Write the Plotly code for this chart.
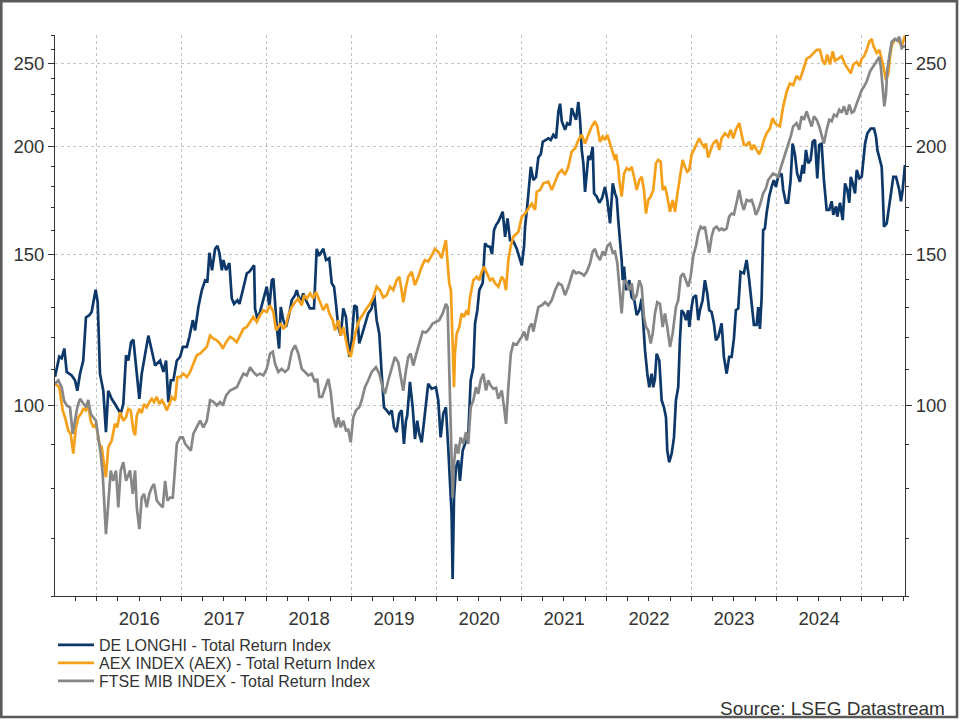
import numpy as np
import pandas as pd
import plotly.graph_objects as go

# ---------------- data (decimal year, index value) ----------------
DE_LONGHI = [(2015.509,108),(2015.560,114),(2015.588,113.5),(2015.619,116.5),(2015.647,109.4),(2015.706,108.4),(2015.745,107),(2015.772,104),(2015.804,108.9),(2015.842,112.8),(2015.874,126.6),(2015.913,127.4),(2015.941,128.5),(2015.960,131.3),(2015.988,136.4),(2016.012,131.9),(2016.039,108.9),(2016.078,104),(2016.109,93.1),(2016.136,104),(2016.176,101.8),(2016.215,100.4),(2016.254,98.7),(2016.282,97.8),(2016.313,100.4),(2016.345,114.4),(2016.372,112.8),(2016.404,118.5),(2016.431,119.3),(2016.462,110.8),(2016.501,101.8),(2016.529,108.9),(2016.568,114.9),(2016.607,120.6),(2016.647,115.9),(2016.686,111.3),(2016.745,112.8),(2016.784,109.4),(2016.815,112.8),(2016.842,100.9),(2016.871,107),(2016.901,107),(2016.941,112.8),(2016.980,113.9),(2017.012,117),(2017.059,117),(2017.089,120.2),(2017.129,125.7),(2017.156,122.3),(2017.195,130.2),(2017.235,136.2),(2017.274,139.9),(2017.301,139.5),(2017.325,150.6),(2017.356,143.7),(2017.392,152.2),(2017.419,153.4),(2017.442,150.6),(2017.471,143.7),(2017.489,147.7),(2017.521,143.7),(2017.560,146.5),(2017.588,133.2),(2017.615,131.3),(2017.654,132.6),(2017.678,131.3),(2017.718,136.2),(2017.765,142.5),(2017.795,143.1),(2017.824,144.3),(2017.851,145.6),(2017.862,129.7),(2017.889,126.2),(2017.921,128.5),(2017.960,132.6),(2018.000,137.5),(2018.031,130.2),(2018.059,139.9),(2018.078,140.5),(2018.118,123.4),(2018.145,116.5),(2018.165,130.2),(2018.195,125.7),(2018.227,123.4),(2018.266,128),(2018.294,132.6),(2018.333,134.4),(2018.353,136.2),(2018.392,131.9),(2018.431,135),(2018.462,132.6),(2018.509,129.7),(2018.556,129.7),(2018.588,152.2),(2018.615,149.4),(2018.666,152.2),(2018.698,147.7),(2018.736,148.4),(2018.765,138.8),(2018.792,137.5),(2018.815,131.3),(2018.842,123.4),(2018.871,120.6),(2018.901,129.7),(2018.933,126.8),(2018.972,113.9),(2019.000,119.1),(2019.031,130.8),(2019.059,130.2),(2019.089,118.1),(2019.118,120.6),(2019.156,124.6),(2019.195,128),(2019.235,129.7),(2019.266,134.4),(2019.294,125.7),(2019.325,121.2),(2019.353,108.9),(2019.380,99.5),(2019.412,98.7),(2019.442,97.8),(2019.471,98.7),(2019.498,94.3),(2019.529,93.1),(2019.560,97.8),(2019.588,98.7),(2019.615,90.2),(2019.639,96),(2019.654,97.3),(2019.686,106.5),(2019.718,99.5),(2019.745,91.4),(2019.772,96),(2019.795,92.7),(2019.824,90.6),(2019.862,97.8),(2019.901,106),(2019.941,104.6),(2019.992,105),(2020.019,101.4),(2020.047,91.8),(2020.078,97.8),(2020.109,99.5),(2020.136,89.4),(2020.156,81.7),(2020.176,74.7),(2020.188,62.8),(2020.204,78.1),(2020.227,84.7),(2020.254,86.3),(2020.274,81.7),(2020.306,88.6),(2020.333,90.2),(2020.372,92.7),(2020.400,107),(2020.431,110.8),(2020.451,124.6),(2020.478,129.1),(2020.501,136.2),(2020.541,138.8),(2020.568,154.4),(2020.595,153.3),(2020.627,153),(2020.651,150),(2020.674,160),(2020.698,162.2),(2020.725,163.6),(2020.753,165.9),(2020.776,168.1),(2020.804,157.2),(2020.833,165.1),(2020.862,155.8),(2020.894,155.8),(2020.941,152.2),(2020.972,148.4),(2021.000,145.6),(2021.027,153.4),(2021.039,161.5),(2021.066,171.3),(2021.089,179.7),(2021.106,189.6),(2021.136,183),(2021.168,184.6),(2021.195,194.4),(2021.224,196.1),(2021.247,202.8),(2021.286,203.8),(2021.313,204.7),(2021.341,203.8),(2021.372,206.6),(2021.404,204.7),(2021.431,219.9),(2021.451,224.6),(2021.471,214.3),(2021.509,209.4),(2021.536,213.2),(2021.568,212),(2021.588,221.9),(2021.615,218),(2021.639,215.1),(2021.666,225.6),(2021.686,215.1),(2021.706,198.4),(2021.725,191.4),(2021.745,177.3),(2021.765,185.6),(2021.784,195.3),(2021.804,193.1),(2021.824,198.4),(2021.835,200.1),(2021.851,176.6),(2021.882,175.1),(2021.913,172.2),(2021.945,174.3),(2021.980,179.7),(2022.007,173.5),(2022.039,162.9),(2022.071,181.4),(2022.098,176.6),(2022.118,174.3),(2022.136,164.4),(2022.156,157.2),(2022.176,147.7),(2022.188,139.9),(2022.204,145.1),(2022.227,136.2),(2022.266,139.9),(2022.294,133.6),(2022.325,132.6),(2022.353,127.4),(2022.384,129.1),(2022.412,133.2),(2022.431,124.6),(2022.451,115.9),(2022.478,108.9),(2022.501,105),(2022.529,108.9),(2022.548,105),(2022.568,107.4),(2022.588,114.9),(2022.619,112.8),(2022.647,101.4),(2022.674,99.5),(2022.698,96.9),(2022.713,88.6),(2022.736,85.9),(2022.765,87.9),(2022.792,91.8),(2022.815,101.4),(2022.842,105),(2022.862,119.1),(2022.882,129.1),(2022.909,128),(2022.933,125.7),(2022.960,129.1),(2022.972,123.4),(2023.000,130.2),(2023.019,133.6),(2023.051,134.4),(2023.078,125.7),(2023.098,129.1),(2023.129,132.6),(2023.156,139.9),(2023.184,135),(2023.207,129.1),(2023.235,128.5),(2023.262,124.6),(2023.286,119.1),(2023.313,120.2),(2023.353,124.6),(2023.380,113.9),(2023.412,108.9),(2023.442,113.9),(2023.471,113.9),(2023.498,119.7),(2023.521,129.1),(2023.548,129.7),(2023.576,143.1),(2023.615,142.5),(2023.647,147.7),(2023.678,139.9),(2023.706,130.2),(2023.733,124.1),(2023.765,124.1),(2023.784,130.2),(2023.804,122.8),(2023.824,133.6),(2023.842,160),(2023.862,160.7),(2023.882,167.3),(2023.913,175.1),(2023.941,179.7),(2023.968,183),(2023.992,179.7),(2024.019,184.6),(2024.059,186.2),(2024.078,178.2),(2024.109,172.2),(2024.136,172.2),(2024.165,183),(2024.188,201.8),(2024.215,196.1),(2024.242,186.2),(2024.274,182.2),(2024.306,190.6),(2024.321,186.2),(2024.345,198.4),(2024.372,191.4),(2024.400,193.1),(2024.424,202.8),(2024.451,203.8),(2024.478,183.8),(2024.501,201.1),(2024.529,201.8),(2024.556,183),(2024.588,168.9),(2024.619,168.9),(2024.647,172.9),(2024.666,166.7),(2024.698,170.5),(2024.713,165.9),(2024.745,172.2),(2024.776,164.4),(2024.804,181.4),(2024.831,178.2),(2024.854,172.2),(2024.871,184.6),(2024.894,181.4),(2024.921,176.6),(2024.941,188),(2024.972,183.8),(2025.000,184.6),(2025.039,201.8),(2025.066,207.4),(2025.106,210.1),(2025.145,210.1),(2025.168,205.6),(2025.184,198.4),(2025.215,193.1),(2025.235,189.6),(2025.247,178.2),(2025.262,161.5),(2025.294,162.9),(2025.325,170.5),(2025.353,178.2),(2025.372,184.6),(2025.404,184.6),(2025.424,181.4),(2025.442,178.2),(2025.462,172.9),(2025.482,178.2),(2025.509,190.6)]

AEX = [(2015.509,106),(2015.560,105),(2015.600,98.7),(2015.627,96.9),(2015.666,93.5),(2015.694,92.7),(2015.725,87.9),(2015.756,94.3),(2015.784,96.9),(2015.815,97.8),(2015.842,99.1),(2015.874,98.7),(2015.901,100.4),(2015.929,96),(2015.960,94.3),(2015.992,95.2),(2016.031,90.2),(2016.059,89.4),(2016.086,85.5),(2016.109,82.5),(2016.136,89.4),(2016.176,91),(2016.215,95.2),(2016.242,94.3),(2016.274,98.2),(2016.313,96),(2016.345,96.9),(2016.372,99.1),(2016.400,98.7),(2016.431,93.5),(2016.451,92.3),(2016.471,97.3),(2016.501,99.1),(2016.529,98),(2016.556,100.4),(2016.588,99.5),(2016.619,100.9),(2016.647,101.8),(2016.674,100.9),(2016.706,102.3),(2016.736,100.4),(2016.765,101.4),(2016.792,100.4),(2016.824,98.7),(2016.854,100.4),(2016.882,102.3),(2016.921,101.4),(2016.948,107.9),(2016.980,107.9),(2017.019,108.9),(2017.059,107.9),(2017.098,109.4),(2017.136,111.8),(2017.176,114.4),(2017.215,114.9),(2017.254,115.9),(2017.294,117),(2017.333,120.6),(2017.372,119.6),(2017.412,119.1),(2017.451,118),(2017.482,116.5),(2017.521,118.5),(2017.568,120.2),(2017.607,119.6),(2017.647,118.5),(2017.686,120.6),(2017.725,122.8),(2017.765,123.4),(2017.804,125.1),(2017.842,126.8),(2017.882,125.1),(2017.921,127.4),(2017.960,129.1),(2018.000,128.5),(2018.039,130.8),(2018.078,128.5),(2018.109,122.3),(2018.136,123.4),(2018.165,124.6),(2018.195,122.8),(2018.227,124.1),(2018.254,127.4),(2018.294,130.2),(2018.333,131.9),(2018.372,133.2),(2018.412,130.8),(2018.439,134.4),(2018.471,133.2),(2018.509,135),(2018.548,133.2),(2018.580,135.6),(2018.619,132.6),(2018.666,129.1),(2018.706,131.3),(2018.736,128),(2018.776,125.7),(2018.804,122.3),(2018.842,125.7),(2018.871,120.6),(2018.901,123.4),(2018.933,119.1),(2018.960,115.5),(2018.988,113.9),(2019.019,118.1),(2019.051,122.3),(2019.089,125.7),(2019.136,128),(2019.176,129.7),(2019.215,131.3),(2019.254,133.6),(2019.294,137.5),(2019.333,136.2),(2019.372,133.6),(2019.412,134.4),(2019.451,137.5),(2019.489,136.2),(2019.529,139.9),(2019.560,141.2),(2019.588,136.2),(2019.607,131.9),(2019.639,137.5),(2019.666,141.2),(2019.706,143.1),(2019.745,138.1),(2019.784,141.2),(2019.824,145),(2019.862,147.7),(2019.901,147.1),(2019.941,149.4),(2019.980,152.2),(2020.019,151),(2020.059,148.4),(2020.086,152.6),(2020.109,155.8),(2020.129,146.4),(2020.148,138.8),(2020.168,136.2),(2020.184,119.1),(2020.204,105),(2020.215,114.9),(2020.235,121.2),(2020.266,123.4),(2020.294,128),(2020.321,126.8),(2020.353,129.1),(2020.372,127.4),(2020.392,133.6),(2020.431,139.9),(2020.471,141.2),(2020.501,139.9),(2020.529,143.1),(2020.556,145.1),(2020.588,142.5),(2020.627,139.9),(2020.659,140.5),(2020.686,138.8),(2020.725,137.5),(2020.765,141.2),(2020.792,139.9),(2020.815,136.2),(2020.842,147.7),(2020.871,153.4),(2020.901,157.2),(2020.960,159.3),(2021.000,165.9),(2021.039,167.3),(2021.078,169.6),(2021.118,171.8),(2021.156,168.9),(2021.176,177.3),(2021.215,178.2),(2021.254,181.4),(2021.313,182.2),(2021.353,178.2),(2021.392,182.2),(2021.431,186.2),(2021.471,188),(2021.509,185.6),(2021.548,189.6),(2021.588,197.6),(2021.627,199.2),(2021.666,203.8),(2021.706,206.6),(2021.745,201.8),(2021.784,206.6),(2021.824,211.3),(2021.862,214.3),(2021.889,211.3),(2021.921,202.8),(2021.953,205.6),(2021.980,203.8),(2022.007,206.6),(2022.039,201.8),(2022.059,198.4),(2022.078,195.3),(2022.098,193.1),(2022.109,196.1),(2022.136,189.6),(2022.148,183),(2022.176,175.1),(2022.204,186.2),(2022.235,188.9),(2022.266,188),(2022.294,189.6),(2022.321,184.6),(2022.353,178.2),(2022.384,183),(2022.412,184.6),(2022.439,178.2),(2022.462,167.3),(2022.489,173.5),(2022.518,175.1),(2022.548,178.2),(2022.580,191.4),(2022.607,193.1),(2022.635,192.2),(2022.659,178.2),(2022.686,180),(2022.713,175.1),(2022.745,168.1),(2022.776,173.5),(2022.804,168.1),(2022.831,176.1),(2022.862,184.6),(2022.894,193.1),(2022.921,189.6),(2022.948,187.1),(2022.972,188),(2023.000,196.1),(2023.027,198.4),(2023.059,201.8),(2023.089,204.7),(2023.118,201.8),(2023.145,200),(2023.168,201.8),(2023.195,194.4),(2023.224,198.4),(2023.254,201.8),(2023.294,203.8),(2023.325,198.4),(2023.353,204.7),(2023.392,207.4),(2023.431,205.6),(2023.459,209.4),(2023.489,204.7),(2023.521,209.4),(2023.560,213.2),(2023.588,207.4),(2023.615,201.1),(2023.647,201.1),(2023.678,202.8),(2023.706,198.4),(2023.733,201.1),(2023.765,198.4),(2023.795,196.1),(2023.824,199.2),(2023.851,203.8),(2023.882,207.4),(2023.921,210.1),(2023.953,216.1),(2023.980,213.2),(2024.007,212.2),(2024.039,211.3),(2024.078,223),(2024.118,231.8),(2024.156,237.1),(2024.195,236),(2024.235,242),(2024.274,239.4),(2024.313,246),(2024.353,253.4),(2024.392,254.6),(2024.431,257.3),(2024.471,259.5),(2024.509,259.5),(2024.541,251.9),(2024.568,249.5),(2024.595,256.2),(2024.627,249.5),(2024.659,258.4),(2024.686,251.9),(2024.725,253.4),(2024.765,255),(2024.804,249.5),(2024.842,246),(2024.871,243.6),(2024.901,249.5),(2024.941,251.2),(2024.972,248.3),(2025.000,253.4),(2025.027,255),(2025.059,259.5),(2025.089,265.2),(2025.118,267.1),(2025.136,262.4),(2025.176,257.3),(2025.207,259.5),(2025.235,253.4),(2025.254,248.3),(2025.286,239),(2025.313,243.5),(2025.333,254.6),(2025.353,262.4),(2025.392,267),(2025.431,265.7),(2025.471,262.4),(2025.509,269.6)]

FTSE_MIB = [(2015.509,106),(2015.548,107),(2015.588,105),(2015.615,101.4),(2015.647,100),(2015.686,99.5),(2015.718,92.7),(2015.745,96),(2015.772,99.5),(2015.804,101.8),(2015.842,100.4),(2015.874,99.5),(2015.901,101.5),(2015.929,97.8),(2015.960,96.9),(2015.992,96),(2016.019,91.8),(2016.047,87.9),(2016.071,83.2),(2016.086,78.9),(2016.109,70.8),(2016.136,76.8),(2016.165,84),(2016.195,81.7),(2016.227,84),(2016.254,76.1),(2016.282,84),(2016.313,85.9),(2016.345,81.7),(2016.392,84),(2016.424,78.9),(2016.451,84),(2016.471,76.1),(2016.501,71.8),(2016.529,78.1),(2016.556,78.9),(2016.588,76.1),(2016.619,78.9),(2016.647,80.3),(2016.674,81),(2016.706,77.5),(2016.736,76.8),(2016.776,76.1),(2016.804,81.7),(2016.831,77.5),(2016.862,78.1),(2016.894,78.1),(2016.921,84.7),(2016.941,90.2),(2016.980,91.8),(2017.012,91.8),(2017.039,90.2),(2017.078,89.4),(2017.106,88.6),(2017.136,92.7),(2017.176,94.3),(2017.215,96),(2017.254,94.3),(2017.294,96),(2017.333,101.4),(2017.372,101),(2017.412,100),(2017.451,100.9),(2017.482,100),(2017.521,102.7),(2017.568,104.1),(2017.607,104.6),(2017.647,105),(2017.686,107),(2017.725,108.9),(2017.765,108.4),(2017.804,110.8),(2017.842,109.4),(2017.882,108.4),(2017.921,108.9),(2017.960,108.4),(2018.000,110.3),(2018.039,114.9),(2018.071,115.5),(2018.098,111.8),(2018.136,109.4),(2018.176,110.3),(2018.215,109.4),(2018.254,110.3),(2018.294,115.5),(2018.333,117.5),(2018.372,114.9),(2018.412,110.3),(2018.451,109.4),(2018.489,108.4),(2018.529,108.9),(2018.568,106.5),(2018.595,107.4),(2018.619,102.3),(2018.651,102.3),(2018.686,105),(2018.725,107.4),(2018.753,103.7),(2018.784,96.9),(2018.815,94.3),(2018.842,96.9),(2018.871,94.3),(2018.901,96),(2018.933,93.5),(2018.960,93.7),(2018.988,90.6),(2019.019,96.9),(2019.051,98.7),(2019.089,99.5),(2019.118,101.4),(2019.156,105),(2019.195,107),(2019.235,109.4),(2019.286,110.8),(2019.325,108.9),(2019.365,105),(2019.392,103.2),(2019.431,107),(2019.471,110.3),(2019.509,113.9),(2019.548,112.3),(2019.576,107.9),(2019.607,104),(2019.639,109.9),(2019.666,113.9),(2019.694,114.9),(2019.725,111.3),(2019.756,114.4),(2019.795,118.1),(2019.835,121.9),(2019.874,121.6),(2019.913,122.8),(2019.953,124.6),(2019.992,125.1),(2020.031,125.7),(2020.071,128),(2020.109,131.3),(2020.129,130.2),(2020.148,110.8),(2020.168,89.4),(2020.188,78.1),(2020.204,85.5),(2020.227,90.2),(2020.254,87.9),(2020.282,91.8),(2020.313,90.2),(2020.345,93.1),(2020.372,90.2),(2020.400,99.5),(2020.431,101.4),(2020.462,105),(2020.489,103.2),(2020.518,107),(2020.548,108.9),(2020.580,104.1),(2020.607,107),(2020.635,105.5),(2020.666,104.6),(2020.698,104.8),(2020.725,101.8),(2020.765,104.1),(2020.792,99.5),(2020.815,95.2),(2020.842,105),(2020.871,114.9),(2020.901,118.1),(2020.941,117.7),(2020.972,119.1),(2021.000,120.2),(2021.027,121.9),(2021.059,119.1),(2021.089,123.4),(2021.118,124.6),(2021.136,121.9),(2021.168,126.8),(2021.195,130.2),(2021.235,130.8),(2021.274,131.9),(2021.313,130.8),(2021.353,132.6),(2021.392,136.2),(2021.431,138.8),(2021.471,138.1),(2021.509,134.4),(2021.548,137.5),(2021.576,140.5),(2021.607,143.7),(2021.639,142.5),(2021.666,142.9),(2021.706,142.4),(2021.733,141.7),(2021.765,143.1),(2021.804,146.4),(2021.835,151.1),(2021.862,152.2),(2021.889,149.4),(2021.921,147.7),(2021.953,151.1),(2021.980,149.4),(2022.007,153.4),(2022.039,154.4),(2022.071,150.6),(2022.098,151.1),(2022.125,146.4),(2022.148,136.2),(2022.176,128),(2022.204,139.9),(2022.235,138.8),(2022.266,136.2),(2022.294,138.8),(2022.321,132.6),(2022.353,134.4),(2022.384,139.9),(2022.412,137.5),(2022.439,126.8),(2022.462,123.4),(2022.489,122.3),(2022.518,118.1),(2022.541,121.2),(2022.568,128),(2022.595,131.9),(2022.627,131.3),(2022.659,123.4),(2022.686,128),(2022.713,123.4),(2022.745,117),(2022.776,121.2),(2022.815,130.2),(2022.842,132.6),(2022.871,141.2),(2022.901,142.5),(2022.933,139.9),(2022.960,137.5),(2022.988,141.2),(2023.019,149.4),(2023.051,153.4),(2023.078,158.5),(2023.106,161.5),(2023.133,160.7),(2023.156,161.5),(2023.184,155.8),(2023.207,150.6),(2023.235,157.2),(2023.262,160.7),(2023.294,161.5),(2023.325,160),(2023.353,160.7),(2023.380,160),(2023.412,160.7),(2023.442,165.9),(2023.471,167.3),(2023.498,166.9),(2023.529,172.2),(2023.560,178.2),(2023.588,172.2),(2023.615,168.9),(2023.647,173.5),(2023.678,172.9),(2023.706,173.5),(2023.733,170.5),(2023.756,166.7),(2023.784,168.9),(2023.812,172.2),(2023.842,176.6),(2023.874,178.9),(2023.901,183),(2023.929,184.6),(2023.960,186.2),(2023.992,185.4),(2024.019,184.6),(2024.047,188.9),(2024.078,193.1),(2024.109,197.6),(2024.136,201.1),(2024.165,205.6),(2024.195,211.3),(2024.235,213.2),(2024.266,209.4),(2024.294,217.1),(2024.321,215.1),(2024.353,220),(2024.384,215.1),(2024.412,211.3),(2024.439,217.1),(2024.471,215.1),(2024.501,211.3),(2024.529,205.6),(2024.556,201.8),(2024.588,209.4),(2024.619,215.1),(2024.647,214.3),(2024.674,218),(2024.706,217.1),(2024.736,221),(2024.765,219.2),(2024.792,223),(2024.824,218),(2024.854,224),(2024.882,219.2),(2024.909,220),(2024.941,224.6),(2024.972,229),(2025.000,233),(2025.027,235.1),(2025.059,238.5),(2025.098,245),(2025.136,248.3),(2025.176,251.2),(2025.207,254.6),(2025.224,248.3),(2025.247,235.1),(2025.266,223),(2025.286,231),(2025.301,246),(2025.325,255),(2025.353,265.2),(2025.392,267.1),(2025.419,266),(2025.442,268.8),(2025.471,260.7),(2025.509,262.4)]

SERIES_NAMES = ["DE LONGHI - Total Return Index",
                "AEX INDEX (AEX) - Total Return Index",
                "FTSE MIB INDEX - Total Return Index"]
Y_TICKS = [100, 150, 200, 250]
YEAR_LABELS = [2016, 2017, 2018, 2019, 2020, 2021, 2022, 2023, 2024]
YEAR_BOUNDS = [2016, 2017, 2018, 2019, 2020, 2021, 2022, 2023, 2024, 2025]
X_SPAN = (2015.5094, 2025.5094)
Y_SPAN = (60, 270)
SOURCE = "Source: LSEG Datastream"

# ---------------- styles ----------------
NAVY = "#0D386A"
ORANGE = "#F5A01A"
GREY = "#878787"
TXT = "#333333"
GRID = "#c4c4c4"
FONT = "Liberation Sans, Arial, sans-serif"


def to_date(t):
    y = int(np.floor(t))
    start = pd.Timestamp(year=y, month=1, day=1)
    end = pd.Timestamp(year=y + 1, month=1, day=1)
    return start + (end - start) * (t - y)


def unpack(points):
    return [to_date(t) for t, _ in points], [v for _, v in points]


x_range = [to_date(X_SPAN[0]), to_date(X_SPAN[1])]
y_range = [np.log10(Y_SPAN[0]), np.log10(Y_SPAN[1])]
bounds = [pd.Timestamp(year=y, month=1, day=1) for y in YEAR_BOUNDS]
mids = [pd.Timestamp(year=y, month=7, day=2) for y in YEAR_LABELS]
quarters = list(pd.date_range("2015-07-01", "2025-07-01", freq="QS"))
minor_y = [v for v in range(Y_SPAN[0], Y_SPAN[1] + 1, 10) if v not in Y_TICKS]

fig = go.Figure()
for pts, name, col, lg in [(DE_LONGHI, SERIES_NAMES[0], NAVY, "legend"),
                           (AEX, SERIES_NAMES[1], ORANGE, "legend2"),
                           (FTSE_MIB, SERIES_NAMES[2], GREY, "legend3")]:
    xs, ys = unpack(pts)
    fig.add_trace(go.Scatter(x=xs, y=ys, mode="lines", name=name, legend=lg,
                             line=dict(color=col, width=2.7)))

# invisible helper trace so the overlay axes (year labels, right scale) render
hx, hy = unpack(DE_LONGHI[:1])
fig.add_trace(go.Scatter(x=hx, y=hy, xaxis="x2", yaxis="y2", mode="markers",
                         marker=dict(opacity=0), showlegend=False, hoverinfo="skip"))

W, H = 960, 720
ML, MR, MT, MB = 55, 55, 35, 124
PW, PH = W - ML - MR, H - MT - MB


def px(xp):
    return (xp - ML) / PW


def py(yp):
    return (H - MB - yp) / PH


tickfont = dict(family=FONT, size=18.5, color=TXT)
yaxis_common = dict(type="log", range=y_range, tickmode="array", tickvals=Y_TICKS,
                    ticktext=[str(v) for v in Y_TICKS], ticks="outside", ticklen=6,
                    tickcolor=TXT, tickwidth=1, showline=True, linecolor=TXT, linewidth=1,
                    tickfont=tickfont, zeroline=False, fixedrange=True,
                    minor=dict(tickvals=minor_y, ticks="outside", ticklen=3,
                               tickcolor=TXT, tickwidth=1, showgrid=False))

fig.update_layout(
    width=W, height=H,
    margin=dict(l=ML, r=MR, t=MT, b=MB, autoexpand=False),
    paper_bgcolor="white", plot_bgcolor="white",
    font=dict(family=FONT, size=16, color=TXT),
    xaxis=dict(type="date", range=x_range, tickmode="array", tickvals=bounds,
               ticktext=[""] * len(bounds), ticks="outside", ticklen=7, tickcolor=TXT,
               tickwidth=1, showline=True, linecolor=TXT, linewidth=1,
               showgrid=True, gridcolor=GRID, griddash="dot", gridwidth=1,
               zeroline=False, fixedrange=True,
               minor=dict(tickvals=quarters, ticks="outside", ticklen=4,
                          tickcolor=TXT, tickwidth=1, showgrid=False)),
    xaxis2=dict(type="date", range=x_range, overlaying="x", anchor="y", side="bottom",
                tickmode="array", tickvals=mids, ticktext=[str(y) for y in YEAR_LABELS],
                ticks="outside", ticklen=6, tickcolor="rgba(0,0,0,0)",
                showline=False, showgrid=False, zeroline=False, tickfont=tickfont,
                fixedrange=True),
    yaxis=dict(**yaxis_common, showgrid=True, gridcolor=GRID, griddash="dot", gridwidth=1),
    yaxis2=dict(**yaxis_common, overlaying="y", side="right", anchor="x", showgrid=False),
    showlegend=True,
)

leg_common = dict(xanchor="left", yanchor="middle", bgcolor="rgba(0,0,0,0)",
                  font=dict(family=FONT, size=16, color=TXT), borderwidth=0, itemwidth=36)
fig.update_layout(
    legend=dict(x=px(53), y=py(645), **leg_common),
    legend2=dict(x=px(53), y=py(663), **leg_common),
    legend3=dict(x=px(53), y=py(681), **leg_common),
)

fig.add_annotation(text=SOURCE, xref="paper", yref="paper", x=px(947), y=py(708),
                   xanchor="right", yanchor="middle", showarrow=False,
                   font=dict(family=FONT, size=19, color=TXT))

fig.add_shape(type="rect", xref="paper", yref="paper",
              x0=px(1.3), x1=px(957), y0=py(717), y1=py(1.3),
              line=dict(color="#5a5a5a", width=2.6), fillcolor="rgba(0,0,0,0)", layer="above")

fig.write_html("out.html")
